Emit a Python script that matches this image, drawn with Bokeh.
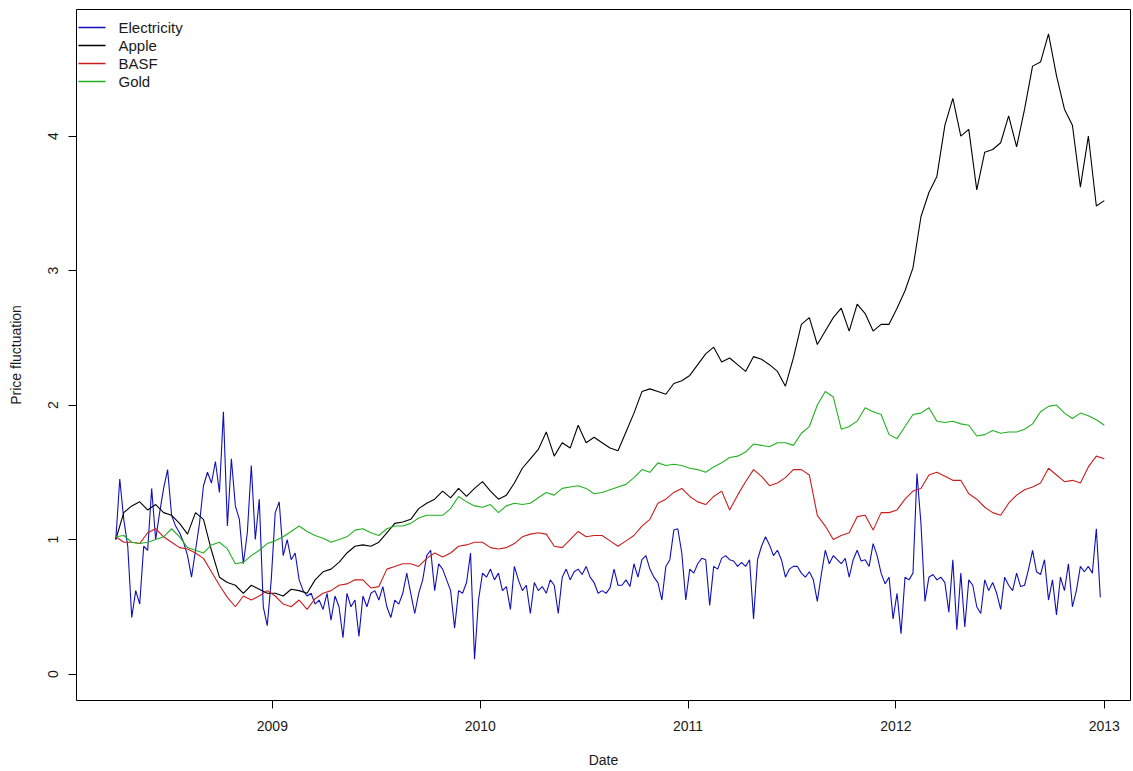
import pandas as pd
from bokeh.plotting import figure
from bokeh.models import Range1d, FixedTicker, DatetimeTickFormatter, BoxAnnotation, Label
from bokeh.embed import file_html
from bokeh.resources import INLINE

# ---------------- data ----------------
weekly_dates = pd.date_range("2008-04-01", periods=248, freq="7D")
biweekly_dates = pd.date_range("2008-04-01", periods=125, freq="14D")

electricity = [
    1.0, 1.45, 1.15, 0.95, 0.42, 0.62, 0.52, 0.95, 0.92, 1.38,
    1.0, 1.2, 1.38, 1.52, 1.18, 1.1, 1.05, 0.98, 0.88, 0.72,
    0.92, 1.12, 1.4, 1.5, 1.42, 1.58, 1.35, 1.95, 1.1, 1.6,
    1.25, 1.15, 0.82, 1.05, 1.55, 1.0, 1.3, 0.5,
    0.36, 0.7, 1.2, 1.28, 0.88, 1.0, 0.85, 0.9, 0.7, 0.62,
    0.58, 0.6, 0.52, 0.55, 0.48, 0.6, 0.4, 0.58, 0.5, 0.27,
    0.6, 0.5, 0.55, 0.28, 0.58, 0.5, 0.6, 0.62, 0.55, 0.65,
    0.5, 0.42, 0.55, 0.52, 0.6, 0.75, 0.6, 0.45, 0.6, 0.7,
    0.88, 0.92, 0.62, 0.82, 0.78,
    0.7, 0.62, 0.34, 0.62, 0.6, 0.68, 0.9, 0.11, 0.55, 0.75,
    0.72, 0.78, 0.7, 0.75, 0.62, 0.65, 0.48, 0.8, 0.7, 0.62,
    0.66, 0.45, 0.68, 0.62, 0.65, 0.6, 0.7, 0.66, 0.45, 0.72,
    0.78, 0.7, 0.76, 0.78, 0.74, 0.8, 0.72, 0.68, 0.6, 0.62,
    0.6, 0.64, 0.78, 0.66,
    0.66, 0.7, 0.65, 0.82, 0.72, 0.85, 0.88, 0.78, 0.72, 0.68,
    0.55, 0.8, 0.85, 1.07, 1.08, 0.9, 0.55, 0.78, 0.75, 0.82,
    0.86, 0.85, 0.51, 0.8, 0.78, 0.86, 0.88, 0.85, 0.84, 0.8,
    0.83, 0.8, 0.85, 0.41, 0.85, 0.95, 1.02, 0.96, 0.88, 0.92,
    0.85, 0.72, 0.78, 0.8,
    0.8, 0.75, 0.72, 0.76, 0.7, 0.54, 0.74, 0.92, 0.82, 0.88,
    0.85, 0.82, 0.86, 0.72, 0.85, 0.92, 0.84, 0.85, 0.8, 0.97,
    0.88, 0.75, 0.67, 0.72, 0.41, 0.6, 0.3, 0.72, 0.7, 0.75,
    1.49, 1.12, 0.54, 0.72, 0.74, 0.7, 0.72, 0.68, 0.46, 0.85,
    0.33, 0.75, 0.35, 0.7, 0.66, 0.5, 0.45,
    0.7, 0.62, 0.68, 0.6, 0.48, 0.72, 0.66, 0.62, 0.75, 0.65,
    0.66, 0.78, 0.92, 0.76, 0.74, 0.85, 0.55, 0.7, 0.44, 0.72,
    0.62, 0.82, 0.5, 0.62, 0.8, 0.76, 0.8, 0.75, 1.08, 0.57,
]

apple = [
    1.0, 1.2, 1.25, 1.28, 1.22, 1.26, 1.2, 1.18, 1.12, 1.04,
    1.2, 1.15, 0.92, 0.72, 0.68, 0.66, 0.6, 0.66, 0.63,
    0.6, 0.6, 0.58, 0.63, 0.62, 0.6, 0.7, 0.76, 0.78, 0.83,
    0.9, 0.95, 0.96, 0.95, 0.98, 1.05, 1.12, 1.13, 1.15, 1.23,
    1.27, 1.3,
    1.36, 1.31, 1.38, 1.32, 1.38, 1.43, 1.36, 1.3, 1.33, 1.42,
    1.53, 1.6, 1.67, 1.8, 1.62, 1.72, 1.68, 1.85, 1.72, 1.76,
    1.72, 1.68, 1.66, 1.8,
    1.94, 2.1, 2.12, 2.1, 2.08, 2.16, 2.18, 2.22, 2.3, 2.38,
    2.43, 2.32, 2.35, 2.3, 2.25, 2.36, 2.34, 2.3, 2.25, 2.14,
    2.35, 2.6, 2.65, 2.45, 2.55, 2.65, 2.72, 2.55, 2.75, 2.68,
    2.55, 2.6, 2.6, 2.72, 2.85,
    3.02, 3.4, 3.58, 3.7, 4.08, 4.28, 4.0, 4.05, 3.6, 3.88,
    3.9, 3.95, 4.15, 3.92, 4.2, 4.52, 4.55, 4.76, 4.45, 4.2,
    4.08, 3.62, 4.0, 3.48, 3.52,
]

basf = [
    1.02, 0.98, 0.98, 0.97, 1.05, 1.08, 1.02, 0.98, 0.94, 0.93,
    0.9, 0.86, 0.76, 0.66, 0.57, 0.5, 0.58, 0.55, 0.58,
    0.62, 0.58, 0.52, 0.5, 0.55, 0.48, 0.56, 0.6, 0.62, 0.66,
    0.67, 0.7, 0.7, 0.64, 0.65, 0.78, 0.8, 0.82, 0.82, 0.8,
    0.86, 0.9,
    0.87, 0.9, 0.95, 0.96, 0.98, 0.98, 0.94, 0.93, 0.94, 0.97,
    1.02, 1.04, 1.05, 1.04, 0.95, 0.94, 1.0, 1.06, 1.02, 1.03,
    1.03, 0.99, 0.95, 0.99,
    1.03, 1.1, 1.15, 1.27, 1.3, 1.35, 1.38, 1.32, 1.28, 1.26,
    1.32, 1.36, 1.22, 1.33, 1.43, 1.52, 1.47, 1.4, 1.42, 1.46,
    1.52, 1.52,
    1.48, 1.18, 1.1, 1.0, 1.03, 1.05, 1.17, 1.18, 1.07, 1.2,
    1.2, 1.22, 1.3, 1.36, 1.38, 1.48, 1.5, 1.47, 1.44, 1.44,
    1.34, 1.3,
    1.24, 1.2, 1.18, 1.27, 1.33, 1.37, 1.39, 1.42, 1.53, 1.48,
    1.43, 1.44, 1.42, 1.54, 1.62, 1.6,
]

gold = [
    1.02, 1.03, 0.98, 0.97, 0.98, 1.0, 1.02, 1.08, 1.02, 0.94,
    0.92, 0.9, 0.96, 0.98, 0.93, 0.82, 0.83, 0.88, 0.92,
    0.97, 0.99, 1.02, 1.06, 1.1, 1.06, 1.03, 1.01, 0.98, 1.0,
    1.02, 1.07, 1.08, 1.05, 1.03, 1.08, 1.1, 1.1, 1.12, 1.16,
    1.18, 1.18,
    1.18, 1.23, 1.32, 1.28, 1.25, 1.24, 1.26, 1.2, 1.25, 1.27,
    1.26, 1.27, 1.31, 1.35, 1.33, 1.38, 1.39, 1.4, 1.38, 1.34,
    1.35, 1.37, 1.39, 1.41,
    1.46, 1.52, 1.5, 1.57, 1.55, 1.56, 1.55, 1.53, 1.52, 1.5,
    1.54, 1.57, 1.61, 1.62, 1.65, 1.71, 1.7, 1.69, 1.72, 1.72,
    1.7, 1.79,
    1.84, 2.0, 2.1, 2.06, 1.82, 1.84, 1.88, 1.98, 1.95, 1.93,
    1.78, 1.75, 1.84, 1.93, 1.94, 1.98, 1.88, 1.87, 1.88, 1.86,
    1.85, 1.77,
    1.78, 1.81, 1.79, 1.8, 1.8, 1.82, 1.86, 1.95, 1.99, 2.0,
    1.94, 1.9, 1.94, 1.92, 1.89, 1.85,
]

series_names = ["Electricity", "Apple", "BASF", "Gold"]
x_tick_labels = ["2009", "2010", "2011", "2012", "2013"]
y_ticks = [0, 1, 2, 3, 4]

# ---------------- figure ----------------
FONT = "Liberation Sans"
TXT = "#1a1a1a"
FRAME_H = 771 - 9 - 71

p = figure(
    width=1133, height=771,
    x_axis_type="datetime",
    x_range=Range1d(pd.Timestamp("2008-01-23"), pd.Timestamp("2013-02-16")),
    y_range=Range1d(-0.197, 4.941),
    output_backend="svg", toolbar_location=None,
    min_border_left=76, min_border_right=3, min_border_top=9, min_border_bottom=71,
    background_fill_color="white", border_fill_color="white",
)
p.grid.visible = False
p.outline_line_color = "black"
p.outline_line_width = 1

colors = ["#1010B8", "#000000", "#C81E1E", "#22B022"]
p.line(weekly_dates, electricity, line_color=colors[0], line_width=1.1)
p.line(biweekly_dates, apple, line_color=colors[1], line_width=1.1)
p.line(biweekly_dates, basf, line_color=colors[2], line_width=1.1)
p.line(biweekly_dates, gold, line_color=colors[3], line_width=1.1)

# x axis
p.xaxis.ticker = FixedTicker(ticks=[pd.Timestamp(y).value // 10**6 for y in x_tick_labels])
p.xaxis.formatter = DatetimeTickFormatter(days="%Y", months="%Y", years="%Y")
p.xaxis.axis_label = "Date"
# y axis
p.yaxis.ticker = FixedTicker(ticks=y_ticks)
p.yaxis.axis_label = "Price fluctuation"
p.yaxis.major_label_orientation = "vertical"

for ax in (p.xaxis, p.yaxis):
    ax.axis_line_color = None
    ax.major_tick_line_color = "black"
    ax.major_tick_out = 8
    ax.major_tick_in = 0
    ax.minor_tick_line_color = None
    ax.major_label_text_font = FONT
    ax.major_label_text_font_size = "14px"
    ax.major_label_text_color = TXT
    ax.axis_label_text_font = FONT
    ax.axis_label_text_font_size = "14px"
    ax.axis_label_text_font_style = "normal"
    ax.axis_label_text_color = TXT

p.xaxis.major_label_standoff = 12
p.xaxis.axis_label_standoff = 18
p.yaxis.major_label_standoff = 10
p.yaxis.axis_label_standoff = 22

# legend (top-left, no box), drawn in screen units relative to the frame
for i, (name, col) in enumerate(zip(series_names, colors)):
    sy = FRAME_H - 18 - 18 * i
    p.add_layout(BoxAnnotation(left=2, right=29, bottom=sy - 0.75, top=sy + 0.75,
                               left_units="screen", right_units="screen",
                               bottom_units="screen", top_units="screen",
                               fill_color=col, fill_alpha=1.0,
                               line_color=None, line_alpha=0))
    p.add_layout(Label(x=42, y=sy, x_units="screen", y_units="screen", text=name,
                       text_baseline="middle", text_align="left",
                       text_font=FONT, text_font_size="15px", text_color=TXT))

open("out.html", "w").write(file_html(p, INLINE))
